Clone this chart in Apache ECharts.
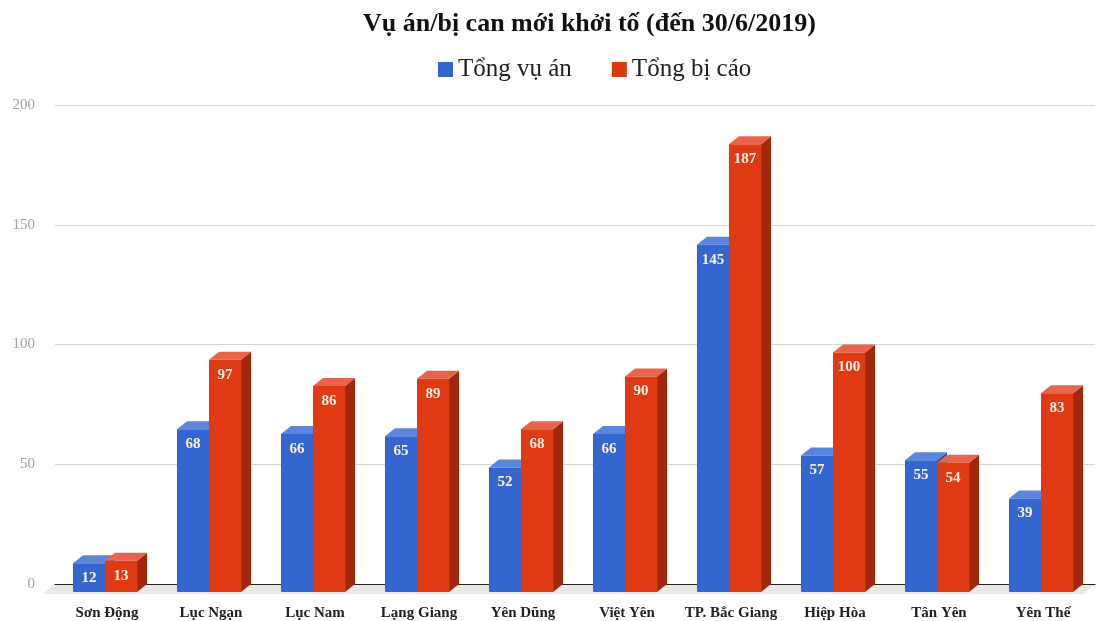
<!DOCTYPE html>
<html>
<head>
<meta charset="utf-8">
<script src="https://cdn.jsdelivr.net/npm/echarts@6/dist/echarts.min.js"></script>
<style>html,body{margin:0;padding:0;background:#fff}#c{width:1104px;height:621px}</style>
</head>
<body>
<div id="c"></div>
<script>
const categories = ['Sơn Động','Lục Ngạn','Lục Nam','Lạng Giang','Yên Dũng','Việt Yên','TP. Bắc Giang','Hiệp Hòa','Tân Yên','Yên Thế'];
const tongVuAn = [12, 68, 66, 65, 52, 66, 145, 57, 55, 39];
const tongBiCao = [13, 97, 86, 89, 68, 90, 187, 100, 54, 83];
const yTicks = [0, 50, 100, 150, 200];

const FONT = '"Liberation Serif", "DejaVu Serif", serif';
const DX = 10, DY = 8;

function barRender(offsetFrac, colors) {
  return function (params, api) {
    const ci = api.value(0), v = api.value(1);
    const band = api.size([1, 0])[0];
    const base = api.coord([ci, 0]);
    const top = api.coord([ci, v]);
    const w = band * 0.308;
    const x0 = base[0] + offsetFrac * band;
    const x1 = x0 + w;
    const yb = base[1] + DY;
    const yt = top[1] + DY;
    return {
      type: 'group',
      children: [
        { type: 'polygon', shape: { points: [[x1, yt], [x1 + DX, yt - DY], [x1 + DX, yb - DY], [x1, yb]] }, style: { fill: colors.side } },
        { type: 'polygon', shape: { points: [[x0, yt], [x0 + DX, yt - DY], [x1 + DX, yt - DY], [x1, yt]] }, style: { fill: colors.top } },
        { type: 'rect', shape: { x: x0, y: yt, width: w, height: yb - yt }, style: { fill: colors.front } },
        { type: 'text', x: (x0 + x1) / 2, y: yt + 15, style: { text: String(v), fill: '#fdeee4', font: 'bold 15px ' + FONT, align: 'center', verticalAlign: 'middle' } }
      ]
    };
  };
}

function floorRender(params, api) {
  const ci = api.value(0);
  const band = api.size([1, 0])[0];
  const base = api.coord([ci, 0]);
  const xl = base[0] - band / 2, xr = base[0] + band / 2;
  const y = base[1];
  return {
    type: 'polygon',
    shape: { points: [[xl, y], [xr, y], [xr - DX - 2, y + DY + 2], [xl - DX - 2, y + DY + 2]] },
    style: { fill: '#e8e8e8' }
  };
}

const chart = echarts.init(document.getElementById('c'));
chart.setOption({
  animation: false,
  backgroundColor: '#fff',
  title: {
    text: 'Vụ án/bị can mới khởi tố (đến 30/6/2019)',
    left: 358, top: 6,
    textStyle: { fontFamily: FONT, fontSize: 26, fontWeight: 'bold', color: '#111' }
  },
  legend: {
    top: 52, left: 433,
    itemWidth: 15, itemHeight: 15, itemGap: 40,
    icon: 'rect',
    textStyle: { fontFamily: FONT, fontSize: 25, color: '#222' },
    data: ['Tổng vụ án', 'Tổng bị cáo']
  },
  grid: { left: 55, right: 9, top: 105, bottom: 37 },
  xAxis: {
    type: 'category',
    data: categories,
    z: 2,
    axisTick: { show: false },
    axisLine: { show: true, lineStyle: { color: '#222', width: 1 } },
    axisLabel: { interval: 0, margin: 22, fontFamily: FONT, fontSize: 15, fontWeight: 'bold', color: '#222' }
  },
  yAxis: {
    type: 'value', min: 0, max: 200, interval: 50,
    axisLine: { show: false }, axisTick: { show: false },
    splitLine: { lineStyle: { color: '#d6d6d6' } },
    axisLabel: { margin: 20, fontFamily: FONT, fontSize: 15, color: '#a0a0a0',
      formatter: v => yTicks.includes(v) ? String(v) : '' }
  },
  series: [
    { name: 'floor', type: 'custom', z: 0, silent: true, renderItem: floorRender,
      data: categories.map((c, i) => [i]) },
    { name: 'Tổng vụ án', type: 'custom', z: 3, itemStyle: { color: '#3366cc' },
      renderItem: barRender(-0.327, { front: '#3566d0', top: '#5c86de', side: '#2a50a8' }),
      data: tongVuAn.map((v, i) => [i, v]) },
    { name: 'Tổng bị cáo', type: 'custom', z: 3, itemStyle: { color: '#dc3912' },
      renderItem: barRender(-0.019, { front: '#e03a14', top: '#e8644a', side: '#a3270c' }),
      data: tongBiCao.map((v, i) => [i, v]) }
  ]
});
</script>
</body>
</html>
